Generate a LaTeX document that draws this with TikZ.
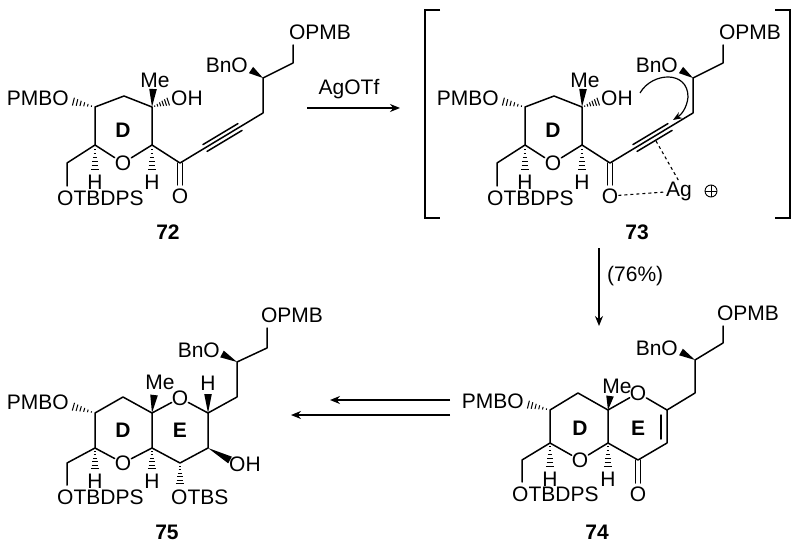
\documentclass[tikz,border=0pt]{standalone}
\usepackage{fontspec}
\setmainfont{Liberation Sans}
\usetikzlibrary{calc,arrows.meta}
\newcommand\hb[2]{\foreach \t in {0.15,0.3,0.45,0.6,0.75,0.9}{%
  \path ($(#1)!\t!(#2)$) coordinate (hbp);
  \draw[line width=1pt] ($(hbp)!\t*4.5pt!90:(#1)$) -- ($(hbp)!\t*4.5pt!-90:(#1)$);}}
\newcommand\wb[2]{\fill (#1) -- ($(#2)!3.8pt!90:(#1)$) -- ($(#2)!3.8pt!-90:(#1)$) -- cycle;}
\tikzset{bd/.style={line width=1.5pt,line cap=round,line join=round},
 t/.style={inner sep=0pt,font=\fontsize{21}{21}\selectfont},
 lb/.style={inner sep=0pt,font=\fontsize{21}{21}\selectfont\bfseries}}
\newcommand\openD{%
  \coordinate (c4) at (95,107); \coordinate (c3) at (124,96); \coordinate (c2) at (152,107);
  \coordinate (c1) at (152,145); \coordinate (c5) at (95,145); \coordinate (m) at (67,163);
  \coordinate (cc) at (180,163); \coordinate (a1) at (205,148); \coordinate (a2) at (240,127);
  \coordinate (s1) at (263,113); \coordinate (s2) at (263,78); \coordinate (s3) at (293,63);
  \node[t] (oR) at (123,163) {O};
  \node[t,anchor=east] (pmbo) at (69,98) {PMBO};
  \node[t] (me) at (155,80) {Me};
  \node[t,anchor=west] (oh) at (171,98) {OH};
  \node[lb] (dl) at (123,130) {D};
  \node[t] (h1) at (95,182) {H};
  \node[t] (h2) at (152,182) {H};
  \node[t,anchor=west] (tb) at (57,198) {OTBDPS};
  \node[t] (oc) at (180,196) {O};
  \node[t,anchor=east] (bno) at (248,65) {BnO};
  \node[t] (opmb) at (320,32) {OPMB};
  \draw[bd] (c5) -- (c4) -- (c3) -- (c2) -- (c1) -- (oR) -- (c5) -- (m) -- (67,186);
  \hb{c4}{71,101} \wb{c2}{153,89} \hb{c2}{170,101}
  \hb{c5}{95,172} \hb{c1}{152,172}
  \draw[bd] (c1) -- (cc) -- (s1) -- (s2) -- (s3) -- (293,45);
  \draw[bd] ($(a1)+(-2.1,-3.4)$) -- ($(a2)+(-2.1,-3.4)$) ($(a1)+(2.1,3.4)$) -- ($(a2)+(2.1,3.4)$);
  \draw[bd] (177.5,163) -- (177.5,185) (182.5,163) -- (182.5,185);
  \wb{s2}{251,70}
}
\begin{document}
\begin{tikzpicture}[x=1pt,y=-1pt]
\useasboundingbox (0,0) rectangle (800,548);
% 72
\openD
\node[lb] (l72) at (168,232) {72};
% arrow AgOTf
\node[t] (ag1) at (349,89) {AgOTf};
\coordinate (ar1) at (307,108); \coordinate (ar2) at (400,108);
\draw[line width=1.3pt,-{Stealth[length=10pt,width=8pt]}] (ar1) -- (ar2);
% 73
\begin{scope}[xshift=430pt]
\openD
\node[t,anchor=west] (ag) at (236,191) {Ag};
\node[inner sep=0pt,minimum size=12pt,circle,draw,line width=0.9pt] (plus) at (281,191) {};
\draw[line width=0.9pt] (plus.west) -- (plus.east) (plus.north) -- (plus.south);
\draw[line width=1.1pt,dashed] (oc) -- (ag);
\draw[line width=1.1pt,dashed] (226,141) -- (ag.north);
\draw[line width=1.2pt,-{Stealth[length=9pt,width=7pt]}] (210,93) .. controls (222,72) and (258,70) .. (258,97) .. controls (257,108) and (251,115) .. (243,120);
\end{scope}
\node[lb] (l73) at (637,232) {73};
\draw[line width=1.3pt] (440,10) -- (425,10) -- (425,218) -- (440,218);
\draw[line width=1.3pt] (775,10) -- (790,10) -- (790,218) -- (775,218);
% arrow down
\coordinate (ar3) at (599,248); \coordinate (ar4) at (599,326);
\draw[line width=1.3pt,-{Stealth[length=10pt,width=8pt]}] (ar3) -- (ar4);
\node[t,anchor=west] (y76) at (607,276) {(76\%)};
% 74
\coordinate (d4) at (550,410); \coordinate (d3) at (578,393); \coordinate (d2) at (608,410);
\coordinate (d1) at (608,443); \coordinate (d5) at (550,443); \coordinate (dm) at (522,460);
\coordinate (e1) at (667,410); \coordinate (e2) at (667,443); \coordinate (e3) at (638,460);
\coordinate (f1) at (695,393); \coordinate (f2) at (695,360); \coordinate (f3) at (723,343);
\node[t] (dO) at (580,460) {O};
\node[t] (eO) at (638,393) {O};
\node[t] (eOc) at (638,494) {O};
\node[t,anchor=east] (pm4) at (524,401) {PMBO};
\node[t] (me4) at (617,386) {Me};
\node[lb] (d4l) at (580,428) {D};
\node[lb] (e4l) at (638,428) {E};
\node[t] (h41) at (550,479) {H};
\node[t] (h42) at (608,479) {H};
\node[t,anchor=west] (tb4) at (512,494) {OTBDPS};
\node[t,anchor=east] (bn4) at (678,348) {BnO};
\node[t] (op4) at (748,313) {OPMB};
\draw[bd] (d5) -- (d4) -- (d3) -- (d2) -- (d1) -- (dO) -- (d5) -- (dm) -- (522,482);
\draw[bd] (d2) -- (eO) -- (e1) -- (e2) -- (e3) -- (d1);
\draw[bd] (661,415) -- (661,439);
\draw[bd] (635.5,460) -- (635.5,483) (640.5,460) -- (640.5,483);
\draw[bd] (e1) -- (f1) -- (f2) -- (f3) -- (723,326);
\hb{d4}{526,404} \wb{d2}{610,396} \hb{d5}{550,469} \hb{d1}{608,469}
\wb{f2}{681,352}
\node[lb] (l74) at (597,532) {74};
% arrows left
\coordinate (b1) at (450,400); \coordinate (b2) at (330,400);
\coordinate (b3) at (450,415); \coordinate (b4) at (291,415);
\draw[line width=1.3pt,-{Stealth[length=10pt,width=8pt]}] (b1) -- (b2);
\draw[line width=1.3pt,-{Stealth[length=10pt,width=8pt]}] (b3) -- (b4);
% 75
\coordinate (g4) at (95,413); \coordinate (g3) at (123,397); \coordinate (g2) at (152,413);
\coordinate (g1) at (152,448); \coordinate (g5) at (95,448); \coordinate (gm) at (67,463);
\coordinate (k1) at (208,413); \coordinate (k2) at (208,448); \coordinate (k3) at (180,463);
\coordinate (p1) at (237,397); \coordinate (p2) at (237,362); \coordinate (p3) at (267,348);
\node[t] (gO) at (123,463) {O};
\node[t] (kO) at (180,398) {O};
\node[t,anchor=east] (pm5) at (69,402) {PMBO};
\node[t] (me5) at (160,382) {Me};
\node[t] (hk) at (208,383) {H};
\node[lb] (d5l) at (123,430) {D};
\node[lb] (e5l) at (180,430) {E};
\node[t] (h51) at (95,481) {H};
\node[t] (h52) at (152,481) {H};
\node[t,anchor=west] (tb5) at (57,497) {OTBDPS};
\node[t,anchor=west] (tbs) at (171,497) {OTBS};
\node[t,anchor=west] (oh5) at (229,464) {OH};
\node[t,anchor=east] (bn5) at (220,350) {BnO};
\node[t] (op5) at (292,315) {OPMB};
\draw[bd] (g5) -- (g4) -- (g3) -- (g2) -- (g1) -- (gO) -- (g5) -- (gm) -- (67,485);
\draw[bd] (g2) -- (kO) -- (k1) -- (k2) -- (k3) -- (g1);
\draw[bd] (k1) -- (p1) -- (p2) -- (p3) -- (267,328);
\hb{g4}{71,406} \wb{g2}{154,395} \hb{g5}{95,471} \hb{g1}{152,471}
\wb{k1}{208,394} \wb{k2}{230,460} \hb{k3}{180,486}
\wb{p2}{222,354}
\node[lb] (l75) at (167,532) {75};
\end{tikzpicture}
\end{document}
